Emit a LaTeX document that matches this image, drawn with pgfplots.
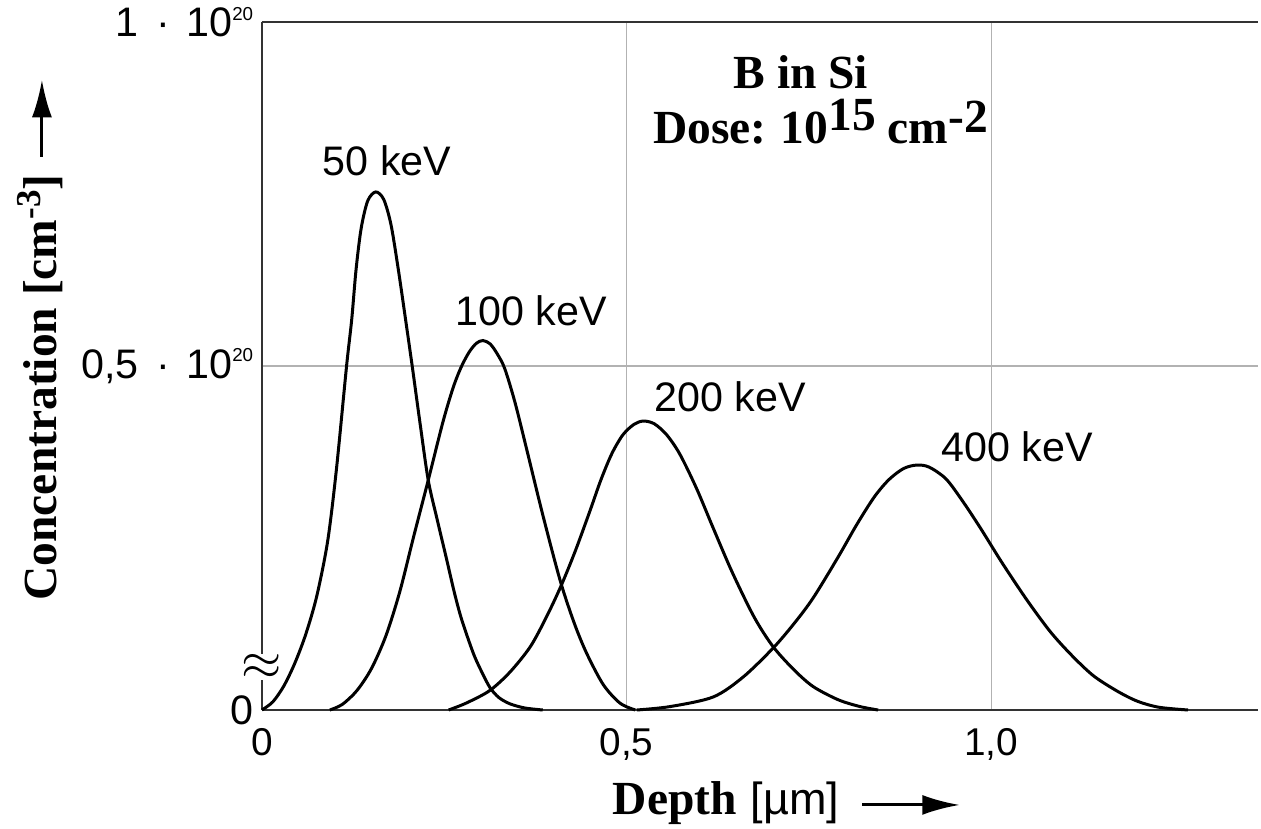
\documentclass[border=0pt]{standalone}
\usepackage{fontspec}
\setmainfont{Liberation Serif}
\setsansfont{Liberation Sans}
\usepackage{pgfplots}
\pgfplotsset{compat=1.18}
\usetikzlibrary{arrows.meta}

\newcommand\tickfont{\sffamily\fontsize{15.5}{18}\selectfont}
\newcommand\ytickfont{\sffamily\fontsize{16.5}{19}\selectfont}
\newcommand\curvefont{\sffamily\fontsize{16.5}{19}\selectfont}
\newcommand\boldfont{\rmfamily\bfseries\fontsize{19}{22}\selectfont}
\newcommand\supp[1]{\raisebox{6.6pt}{\fontsize{7.5}{7.5}\selectfont #1}}

\begin{document}
\begin{tikzpicture}
\begin{axis}[
  at={(0,0)}, anchor=south west,
  scale only axis, width=398.4pt, height=275.2pt,
  xmin=0, xmax=1.366, ymin=0, ymax=1,
  axis x line*=box, axis y line*=left,
  axis line style={black!80, line width=0.7pt},
  xtick={0,0.5,1}, ytick={0,0.5,1},
  xticklabels={0,{0,5},{1,0}},
  yticklabels={0,{0,5\hspace{0.42em}·\hspace{0.4em}10\supp{20}},{1\hspace{0.42em}·\hspace{0.4em}10\supp{20}}},
  major tick length=0pt,
  grid=major, grid style={gray!60, line width=0.5pt},
  xticklabel style={font=\tickfont, yshift=-4pt},
  yticklabel style={font=\ytickfont},
  clip=false,
]
% 50 keV
\addplot[black, line width=1.2pt, smooth] coordinates {
 (0.000,0.000) (0.015,0.012) (0.030,0.035) (0.045,0.068) (0.060,0.110) (0.075,0.165)
 (0.090,0.245) (0.102,0.349) (0.116,0.500) (0.123,0.567) (0.129,0.640) (0.136,0.700)
 (0.145,0.740) (0.156,0.753) (0.167,0.742) (0.177,0.705) (0.187,0.640) (0.197,0.567)
 (0.206,0.500) (0.217,0.415) (0.228,0.334) (0.240,0.278) (0.253,0.220) (0.264,0.170)
 (0.274,0.131) (0.290,0.082) (0.302,0.054) (0.313,0.032) (0.325,0.018) (0.340,0.009)
 (0.360,0.003) (0.385,0.000)};
% 100 keV
\addplot[black, line width=1.2pt, smooth] coordinates {
 (0.093,0.000) (0.110,0.008) (0.130,0.028) (0.150,0.060) (0.170,0.108) (0.189,0.172)
 (0.208,0.252) (0.228,0.334) (0.248,0.418) (0.262,0.468) (0.273,0.498) (0.284,0.520)
 (0.294,0.533) (0.303,0.537) (0.313,0.532) (0.323,0.517) (0.333,0.496) (0.347,0.447)
 (0.363,0.379) (0.385,0.284) (0.409,0.188) (0.428,0.127) (0.445,0.083) (0.468,0.037)
 (0.491,0.010) (0.512,0.000)};
% 200 keV
\addplot[black, line width=1.2pt, smooth] coordinates {
 (0.256,0.000) (0.280,0.010) (0.312,0.028) (0.340,0.055) (0.368,0.092) (0.390,0.135)
 (0.410,0.180) (0.430,0.232) (0.450,0.290) (0.465,0.335) (0.480,0.373) (0.495,0.400)
 (0.510,0.415) (0.523,0.420) (0.538,0.416) (0.555,0.400) (0.573,0.372) (0.596,0.322)
 (0.619,0.264) (0.645,0.200) (0.675,0.135) (0.701,0.092) (0.730,0.058) (0.756,0.034)
 (0.790,0.015) (0.820,0.005) (0.845,0.000)};
% 400 keV
\addplot[black, line width=1.2pt, smooth] coordinates {
 (0.514,0.000) (0.560,0.005) (0.619,0.019) (0.660,0.048) (0.701,0.090) (0.730,0.126)
 (0.756,0.163) (0.790,0.222) (0.816,0.270) (0.840,0.310) (0.860,0.335) (0.880,0.351)
 (0.898,0.356) (0.915,0.353) (0.938,0.336) (0.960,0.305) (0.985,0.265) (1.015,0.214)
 (1.049,0.160) (1.081,0.114) (1.110,0.080) (1.140,0.050) (1.172,0.028) (1.200,0.013)
 (1.230,0.004) (1.270,0.000)};

\node[font=\curvefont] at (axis cs:0.1715,0.799) {50 keV};
\node[font=\curvefont] at (axis cs:0.369,0.581) {100 keV};
\node[font=\curvefont] at (axis cs:0.642,0.456) {200 keV};
\node[font=\curvefont] at (axis cs:1.036,0.382) {400 keV};

\node[font=\boldfont, anchor=base, inner sep=0.5pt] at (axis cs:0.739,0.903) {B in Si};
\node[font=\boldfont, anchor=base, inner sep=0.5pt] at (axis cs:0.766,0.824) {Dose:\hspace{0.3em}10\raisebox{0.26em}{15} cm\raisebox{0.22em}{-2}};

\node[font=\boldfont, anchor=base west] at (axis cs:0.469,-0.1526) {Depth};
\node[font=\sffamily\fontsize{18}{21}\selectfont, anchor=base west] at (axis cs:0.658,-0.1526) {[µm]};
\draw[line width=1.2pt, -{Latex[length=15pt,width=8pt]}] (axis cs:0.823,-0.138) -- (axis cs:0.957,-0.138);

\node[font=\boldfont, rotate=90, anchor=base] at (axis cs:-0.2812,0.4687) {Concentration [cm\raisebox{0.35em}{\fontsize{14}{14}\selectfont -3}]};
\draw[line width=1.2pt, -{Latex[length=15pt,width=8pt]}] (axis cs:-0.3018,0.804) -- (axis cs:-0.3018,0.916);

\coordinate (br) at (axis cs:0,0.0625);
\end{axis}
\node[fill=white, inner sep=0pt, font=\fontsize{21}{21}\selectfont] at (br) {$\approx$};
\pgfresetboundingbox
\path[use as bounding box] (-104.8pt,-47.6pt) rectangle (399.6pt,284pt);
\end{tikzpicture}
\end{document}
